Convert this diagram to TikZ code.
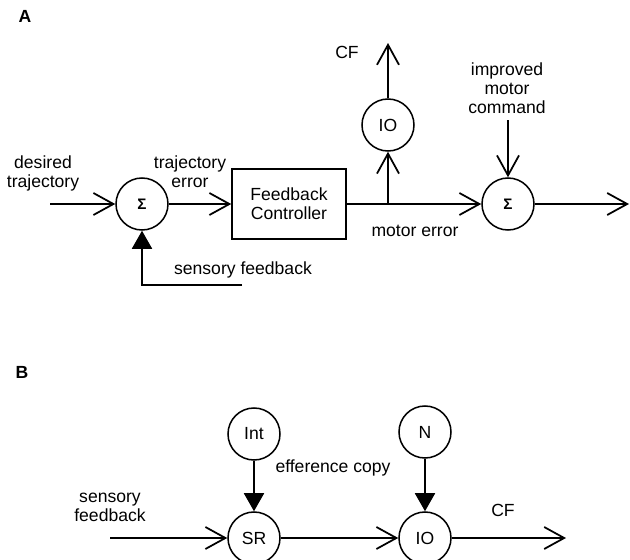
\documentclass[tikz,border=0pt]{standalone}
\usepackage{fontspec}
\setmainfont{Liberation Sans}
\usetikzlibrary{arrows.meta}

\begin{document}
\begin{tikzpicture}[x=0.03cm,y=-0.03cm,line width=1.5pt,
  font=\fontsize{15}{16.2}\selectfont,
  cnode/.style={draw,circle,line width=1.3pt,minimum size=1.56cm,inner sep=0pt},
  sumnode/.style={cnode,font=\fontsize{13}{13}\selectfont\bfseries},
  ctrlbox/.style={draw,rectangle,line width=1.3pt,minimum width=3.42cm,minimum height=2.1cm,align=center},
  lbl/.style={align=center,inner sep=0pt},
  openarr/.style={-{Straight Barb[length=0.6cm,width=0.66cm]}},
  fillarr/.style={-{Triangle[length=0.54cm,width=0.6cm]}}]
  \useasboundingbox (0,0) rectangle (630,560);
  % panel A
  \node[lbl,font=\fontsize{15}{16.2}\selectfont\bfseries] (lblA) at (25,16) {A};
  \node[lbl] (desired) at (43,173) {desired\\trajectory};
  \coordinate (in1) at (50,204);
  \node[sumnode] (sum1) at (142,204) {Σ};
  \node[ctrlbox] (fbc) at (289,204) {Feedback\\Controller};
  \node[lbl] (trajerr) at (190,172) {trajectory\\error};
  \coordinate (branch) at (388,204);
  \node[cnode] (ioA) at (388,125) {IO};
  \coordinate (cfend) at (388,43);
  \node[lbl] (cfA) at (347,52) {CF};
  \node[sumnode] (sum2) at (508,204) {Σ};
  \node[lbl] (imc) at (507,88) {improved\\motor\\command};
  \coordinate (imcstart) at (508,120);
  \node[lbl] (merr) at (415,231) {motor error};
  \coordinate (out1) at (629,204);
  \coordinate (sfstart) at (242,285);
  \node[lbl] (sfA) at (243,270) {sensory feedback};
  \draw[openarr] (in1) -- (sum1);
  \draw[openarr] (sum1) -- (fbc);
  \draw[openarr] (fbc) -- (sum2);
  \draw[openarr] (branch) -- (ioA);
  \draw[openarr] (ioA) -- (cfend);
  \draw[openarr] (imcstart) -- (sum2);
  \draw[openarr] (sum2) -- (out1);
  \draw[fillarr] (sfstart) -| (sum1);
  % panel B
  \node[lbl,font=\fontsize{15}{16.2}\selectfont\bfseries] (lblB) at (22,372) {B};
  \node[cnode] (int) at (254,434) {Int};
  \node[cnode] (nn) at (425,432) {N};
  \node[cnode] (sr) at (254,538) {SR};
  \node[cnode] (ioB) at (425,538) {IO};
  \node[lbl] (sfB) at (110,507) {sensory\\feedback};
  \coordinate (in2) at (110,538);
  \node[lbl] (effcopy) at (333,468) {efference copy};
  \node[lbl] (cfB) at (503,510) {CF};
  \coordinate (out2) at (566,538);
  \draw[fillarr] (int) -- (sr);
  \draw[fillarr] (nn) -- (ioB);
  \draw[openarr] (in2) -- (sr);
  \draw[openarr] (sr) -- (ioB);
  \draw[openarr] (ioB) -- (out2);
\end{tikzpicture}
\end{document}
